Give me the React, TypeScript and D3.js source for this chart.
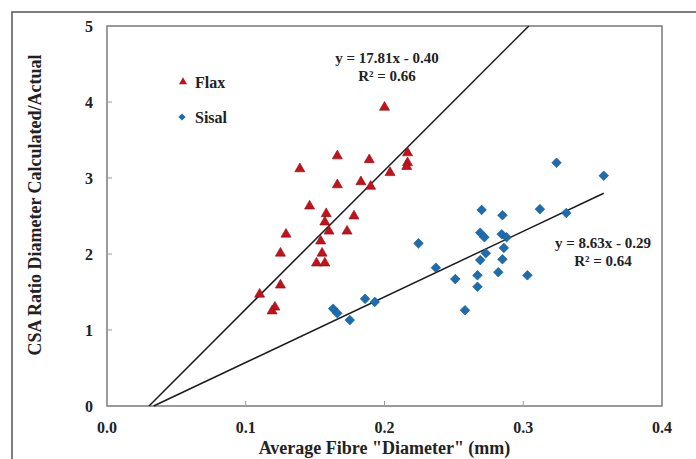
import React, { useEffect, useRef } from 'react';
import * as d3 from 'd3';

// Flax: [average fibre diameter (mm), CSA ratio]
const flaxX = [0.200, 0.139, 0.166, 0.189, 0.204, 0.166, 0.183, 0.190, 0.146, 0.158, 0.178,
    0.2166, 0.2166, 0.216, 0.157, 0.129, 0.160, 0.173, 0.154, 0.125, 0.155, 0.151, 0.157,
    0.125, 0.110, 0.121, 0.119];
const flaxY = [3.93, 3.12, 3.29, 3.24, 3.07, 2.91, 2.95, 2.89, 2.63, 2.53, 2.50,
    3.33, 3.20, 3.15, 2.42, 2.26, 2.30, 2.30, 2.17, 2.01, 2.01, 1.88, 1.88,
    1.59, 1.47, 1.30, 1.25];

const sisalX = [0.163, 0.166, 0.186, 0.193, 0.175, 0.2245, 0.237, 0.251, 0.258, 0.267, 0.267,
    0.269, 0.273, 0.269, 0.272, 0.282, 0.285, 0.286, 0.2845, 0.288, 0.303, 0.270, 0.285,
    0.324, 0.358, 0.312, 0.331];
const sisalY = [1.28, 1.22, 1.41, 1.37, 1.13, 2.14, 1.82, 1.67, 1.26, 1.72, 1.57,
    1.92, 2.01, 2.28, 2.22, 1.76, 1.93, 2.08, 2.26, 2.22, 1.72, 2.58, 2.51,
    3.20, 3.03, 2.59, 2.54];

// trend lines as drawn: slope, intercept, x at start and end
const flaxFit = { slope: 18.27, intercept: -0.553, x0: 0.0303, x1: 0.304 };
const sisalFit = { slope: 8.63, intercept: -0.29, x0: 0.0336, x1: 0.358 };

const xTicks = [0, 0.1, 0.2, 0.3, 0.4];
const yTicks = [0, 1, 2, 3, 4, 5];

const W = 696;
const H = 459;
const family = "'Liberation Serif', 'Times New Roman', serif";

export default function App() {
    const ref = useRef<SVGSVGElement>(null);

    useEffect(() => {
        const svg = d3.select(ref.current);
        svg.selectAll('*').remove();

        const left = 107, right = 662, top = 26, bottom = 406;
        const x = d3.scaleLinear().domain([0, 0.4]).range([left, right]);
        const y = d3.scaleLinear().domain([0, 5]).range([bottom, top]);

        const txt = (sel, size) =>
            sel.attr('font-family', family)
                .attr('font-weight', 'bold')
                .attr('font-size', size)
                .attr('fill', '#222');

        // outer frame
        svg.append('rect')
            .attr('x', 12).attr('y', 12)
            .attr('width', W + 20).attr('height', H + 20)
            .attr('fill', 'none').attr('stroke', '#555').attr('stroke-width', 1.5);

        // plot area
        svg.append('rect')
            .attr('x', left).attr('y', top)
            .attr('width', right - left).attr('height', bottom - top)
            .attr('fill', 'none').attr('stroke', '#7a7a7a').attr('stroke-width', 1.5);

        // ticks (inward)
        svg.append('g').selectAll('line').data(xTicks.slice(1, -1)).join('line')
            .attr('x1', (d) => x(d)).attr('x2', (d) => x(d))
            .attr('y1', bottom).attr('y2', bottom - 5)
            .attr('stroke', '#999');
        svg.append('g').selectAll('line').data(yTicks.slice(1, -1)).join('line')
            .attr('x1', left).attr('x2', left + 5)
            .attr('y1', (d) => y(d)).attr('y2', (d) => y(d))
            .attr('stroke', '#999');

        txt(svg.append('g').selectAll('text').data(xTicks).join('text')
            .attr('x', (d) => x(d)).attr('y', bottom + 27)
            .attr('text-anchor', 'middle'), 16)
            .text((d) => d3.format('.1f')(d));
        txt(svg.append('g').selectAll('text').data(yTicks).join('text')
            .attr('x', left - 14).attr('y', (d) => y(d) + 5.5)
            .attr('text-anchor', 'end'), 16)
            .text((d) => d);

        // axis titles
        txt(svg.append('text')
            .attr('x', (left + right) / 2).attr('y', 454)
            .attr('text-anchor', 'middle'), 18)
            .text('Average Fibre "Diameter" (mm)');
        txt(svg.append('text')
            .attr('transform', `translate(41, 205) rotate(-90)`)
            .attr('text-anchor', 'middle'), 18)
            .text('CSA Ratio Diameter Calculated/Actual');

        // trend lines
        [flaxFit, sisalFit].forEach((f) => {
            svg.append('line')
                .attr('x1', x(f.x0)).attr('y1', y(f.slope * f.x0 + f.intercept))
                .attr('x2', x(f.x1)).attr('y2', y(f.slope * f.x1 + f.intercept))
                .attr('stroke', '#1a1a1a').attr('stroke-width', 1.5);
        });

        const tri = d3.symbol().type(d3.symbolTriangle);
        const sq = d3.symbol().type(d3.symbolSquare);

        svg.append('g').selectAll('path').data(flaxX).join('path')
            .attr('d', tri.size(44)())
            .attr('transform', (d, i) => `translate(${x(d)},${y(flaxY[i])})`)
            .attr('fill', '#c4121b').attr('stroke', '#8a0a10').attr('stroke-width', 0.6);

        svg.append('g').selectAll('path').data(sisalX).join('path')
            .attr('d', sq.size(46)())
            .attr('transform', (d, i) => `translate(${x(d)},${y(sisalY[i])}) rotate(45)`)
            .attr('fill', '#1b6db0').attr('stroke', '#14588f').attr('stroke-width', 0.6);

        // legend
        svg.append('path').attr('d', tri.size(28)())
            .attr('transform', 'translate(183,82)').attr('fill', '#c4121b');
        svg.append('path').attr('d', sq.size(26)())
            .attr('transform', 'translate(182,117) rotate(45)').attr('fill', '#1b6db0');
        txt(svg.append('text').attr('x', 195).attr('y', 88), 16).text('Flax');
        txt(svg.append('text').attr('x', 195).attr('y', 123), 16).text('Sisal');

        // equations
        const eq = [
            { cx: 387, lines: ['y = 17.81x - 0.40', 'R² = 0.66'], y0: 63 },
            { cx: 603, lines: ['y = 8.63x - 0.29', 'R² = 0.64'], y0: 248 }
        ];
        eq.forEach((e) => {
            e.lines.forEach((t, i) => {
                txt(svg.append('text')
                    .attr('x', e.cx).attr('y', e.y0 + i * 17.5)
                    .attr('text-anchor', 'middle'), 15)
                    .text(t);
            });
        });
    }, []);

    return (
        <svg
            ref={ref}
            width={W}
            height={H}
            style={{ position: 'absolute', left: 0, top: 0, background: '#fff' }}
        />
    );
}
